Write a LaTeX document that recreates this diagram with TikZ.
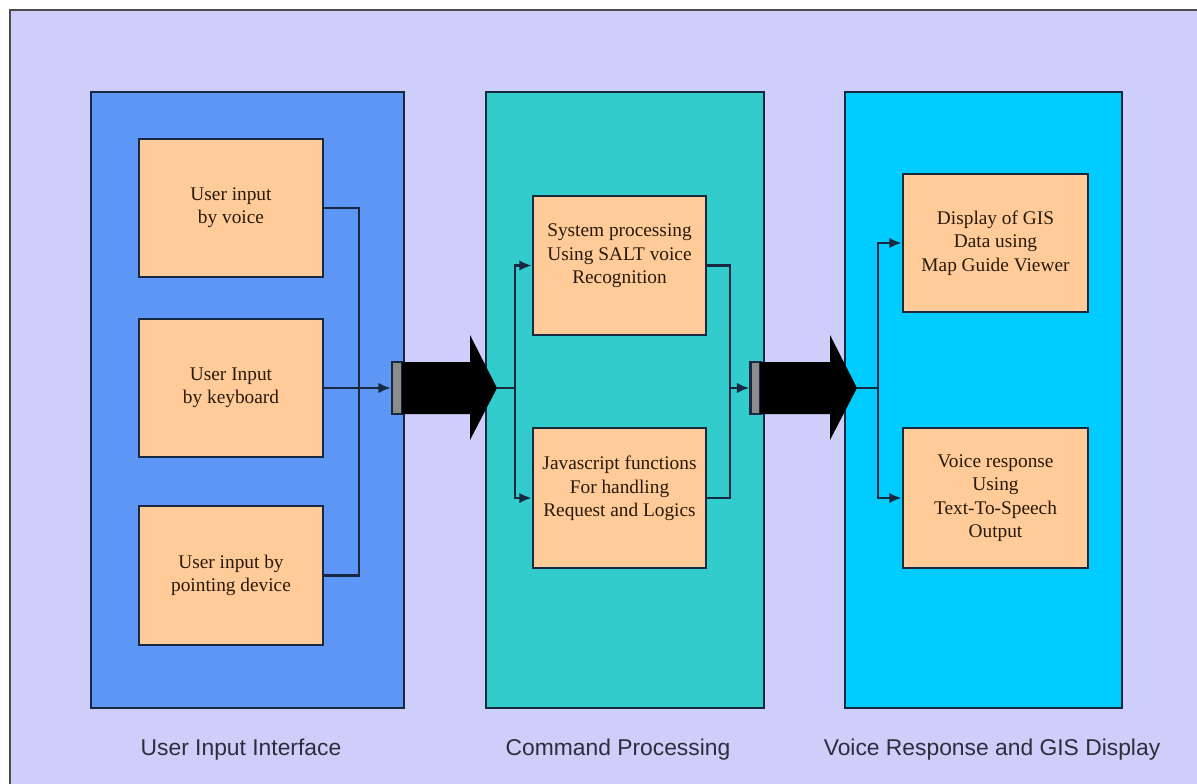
\documentclass[tikz,border=0pt]{standalone}
\usepackage{fontspec}
\setmainfont{Liberation Serif}
\newfontfamily\labelsans{Liberation Sans}
\usetikzlibrary{arrows.meta}
\definecolor{bglav}{RGB}{206,206,250}
\definecolor{panelA}{RGB}{94,150,245}
\definecolor{panelB}{RGB}{51,204,204}
\definecolor{panelC}{RGB}{0,204,255}
\definecolor{peach}{RGB}{255,204,153}
\definecolor{edge}{RGB}{24,40,64}
\definecolor{ink}{RGB}{40,25,10}
\definecolor{labelink}{RGB}{45,45,60}
\begin{document}
\begin{tikzpicture}[x=0.02cm,y=-0.02cm,
  panel/.style={draw=edge,line width=1.4pt,minimum height=12.32cm,inner sep=0pt},
  box/.style={draw=edge,fill=peach,line width=1.6pt,align=center,inner sep=0pt,text=ink,font=\fontsize{11}{13.3}\selectfont},
  link/.style={draw=edge,line width=1.5pt},
  tip/.style={link,-{Latex[length=7pt,width=6pt]}},
  tailbar/.style={draw=edge,fill=black!45,line width=1.5pt,minimum width=0.2cm,minimum height=1.04cm,inner sep=0pt},
  caption/.style={font=\labelsans\fontsize{13}{15}\selectfont,text=labelink}
]
\useasboundingbox (0,0) rectangle (1197,784);
\fill[white] (0,0) rectangle (1197,784);
\fill[bglav] (10,10) rectangle (1197,784);
\draw[line width=1.6pt,draw=black!70] (10,784) -- (10,10) -- (1197,10);

% panels
\node[panel,fill=panelA,minimum width=6.26cm] (P1) at (247.5,400) {};
\node[panel,fill=panelB,minimum width=5.56cm] (P2) at (625,400) {};
\node[panel,fill=panelC,minimum width=5.54cm] (P3) at (983.5,400) {};

% boxes
\node[box,minimum width=3.68cm,minimum height=2.76cm] (L1) at (231,208) {User input\\by voice};
\node[box,minimum width=3.68cm,minimum height=2.76cm] (L2) at (231,388) {User Input\\by keyboard};
\node[box,minimum width=3.68cm,minimum height=2.78cm] (L3) at (231,575.5) {User input by\\pointing device};

\node[box,minimum width=3.46cm,minimum height=2.78cm] (M1) at (619.5,265.5) {System processing\\Using SALT voice\\Recognition\\\mbox{}};
\node[box,minimum width=3.46cm,minimum height=2.80cm] (M2) at (619.5,498) {Javascript functions\\For handling\\Request and Logics\\\mbox{}};

\node[box,minimum width=3.70cm,minimum height=2.76cm] (R1) at (995.5,243) {Display of GIS\\Data using\\Map Guide Viewer};
\node[box,minimum width=3.70cm,minimum height=2.80cm] (R2) at (995.5,498) {Voice response\\Using\\Text-To-Speech\\Output};

% big arrows
\node[tailbar] (T1) at (397,388) {};
\fill[black] (402,362) -- (470,362) -- (470,335) -- (497,388) -- (470,440) -- (470,414) -- (402,414) -- cycle;
\coordinate (A1) at (497,388);
\node[tailbar] (T2) at (755.5,388) {};
\fill[black] (760,362) -- (830,362) -- (830,335) -- (857,388) -- (830,440) -- (830,414) -- (760,414) -- cycle;
\coordinate (A2) at (857,388);

% junctions
\coordinate (jL) at (359,388);
\coordinate (jM) at (515,388);
\coordinate (jN) at (730,388);
\coordinate (jR) at (878,388);

% connectors
\draw[link] (L1.east) -| (jL) |- (L3.east);
\draw[tip] (L2.east) -- (T1.west);
\draw[link] (A1) -- (jM);
\draw[tip] (jM) |- (M1.west);
\draw[tip] (jM) |- (M2.west);
\draw[link] (M1.east) -| (jN) |- (M2.east);
\draw[tip] (jN) -- (T2.west);
\draw[link] (A2) -- (jR);
\draw[tip] (jR) |- (R1.west);
\draw[tip] (jR) |- (R2.west);

% captions
\node[caption] (C1) at (241,750) {User Input Interface};
\node[caption] (C2) at (618,750) {Command Processing};
\node[caption] (C3) at (992,750) {Voice Response and GIS Display};
\end{tikzpicture}
\end{document}
